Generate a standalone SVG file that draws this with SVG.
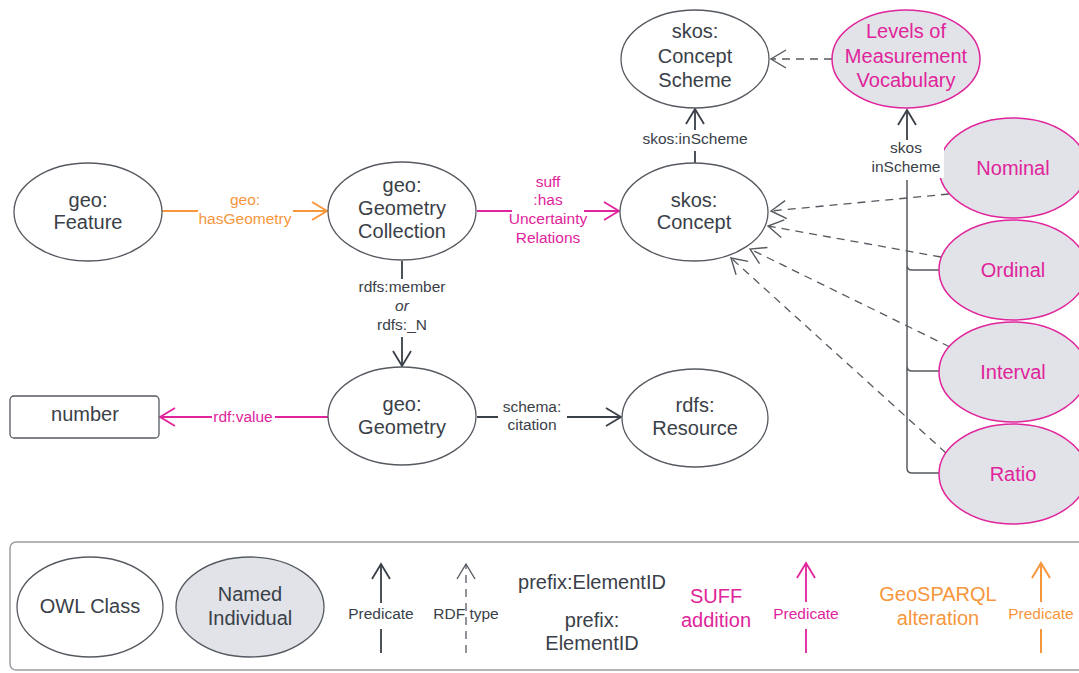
<svg xmlns="http://www.w3.org/2000/svg" width="1079" height="673" viewBox="0 0 1079 673">
<defs>
<style>
text{font-family:"Liberation Sans",Arial,sans-serif;fill:#3a4048;text-anchor:middle}
.n{font-size:20px}
.e{font-size:15.5px}
.m{fill:#e0249b}
.o{fill:#f7963c}
.cls{fill:#fff;stroke:#555a60;stroke-width:1.3}
.ind{fill:#e1e3e8;stroke:#e0249b;stroke-width:1.5}
.ln{fill:none;stroke:#3a4048;stroke-width:1.8}
.lm{fill:none;stroke:#e0249b;stroke-width:1.8}
.lo{fill:none;stroke:#f7963c;stroke-width:2}
.ld{fill:none;stroke:#555a60;stroke-width:1.3;stroke-dasharray:8 6}
</style>
<marker id="ag" viewBox="0 0 20 20" refX="18" refY="10" markerWidth="20" markerHeight="20" markerUnits="userSpaceOnUse" orient="auto"><path d="M3,1 L18,10 L3,19" fill="none" stroke="#3a4048" stroke-width="1.8"/></marker>
<marker id="am" viewBox="0 0 20 20" refX="18" refY="10" markerWidth="20" markerHeight="20" markerUnits="userSpaceOnUse" orient="auto"><path d="M3,1 L18,10 L3,19" fill="none" stroke="#e0249b" stroke-width="1.8"/></marker>
<marker id="ao" viewBox="0 0 20 20" refX="18" refY="10" markerWidth="20" markerHeight="20" markerUnits="userSpaceOnUse" orient="auto"><path d="M3,1 L18,10 L3,19" fill="none" stroke="#f7963c" stroke-width="2"/></marker>
<marker id="ad" viewBox="0 0 20 20" refX="18" refY="10" markerWidth="20" markerHeight="20" markerUnits="userSpaceOnUse" orient="auto"><path d="M3,1 L18,10 L3,19" fill="none" stroke="#555a60" stroke-width="1.4"/></marker>
</defs>
<rect width="1079" height="673" fill="#fff"/>

<g id="connectors">
<path class="lo" d="M162,211 H198 M293,211 H327" marker-end="url(#ao)"/>
<text class="e o" x="245" y="205">geo:</text>
<text class="e o" x="245" y="224">hasGeometry</text>

<path class="lm" d="M477,211 H512 M584,211 H619" marker-end="url(#am)"/>
<text class="e m" x="548" y="187">suff</text>
<text class="e m" x="548" y="205">:has</text>
<text class="e m" x="548" y="224">Uncertainty</text>
<text class="e m" x="548" y="243">Relations</text>

<path class="ln" d="M402,261 V279 M402,337 V366" marker-end="url(#ag)"/>
<text class="e" x="402" y="292">rdfs:member</text>
<text class="e" x="402" y="311" font-style="italic">or</text>
<text class="e" x="402" y="330">rdfs:_N</text>

<path class="lm" d="M328,417 H275 M212,417 H160" marker-end="url(#am)"/>
<text class="e m" x="243" y="422">rdf:value</text>

<path class="ln" d="M477,417 H498 M567,417 H621" marker-end="url(#ag)"/>
<text class="e" x="532" y="412">schema:</text>
<text class="e" x="532" y="430">citation</text>

<path class="ln" d="M695,163 V151 M695,130 V109" marker-end="url(#ag)"/>
<text class="e" x="695" y="144">skos:inScheme</text>

<path class="ld" d="M832,59 H771" marker-end="url(#ad)"/>

<path class="ln" d="M907,140 V110" marker-end="url(#ag)"/>
<path fill="none" stroke="#555a60" stroke-width="1.5" d="M907,180 V468 Q907,473 912,473 H939 M907,265 Q907,270 912,270 H939 M907,366 Q907,371 912,371 H939"/>

<path class="ld" d="M949,194 L771,211" marker-end="url(#ad)"/>
<path class="ld" d="M941,257 L768,226" marker-end="url(#ad)"/>
<path class="ld" d="M950,347 L750,249" marker-end="url(#ad)"/>
<path class="ld" d="M946,453 L731,258" marker-end="url(#ad)"/>
</g>

<g id="feature"><ellipse class="cls" cx="88" cy="212" rx="74" ry="49"/><text class="n" x="88" y="207">geo:</text><text class="n" x="88" y="229">Feature</text></g>
<g id="geometry-collection"><ellipse class="cls" cx="402" cy="211" rx="74" ry="49"/><text class="n" x="402" y="192">geo:</text><text class="n" x="402" y="215">Geometry</text><text class="n" x="402" y="238">Collection</text></g>
<g id="concept"><ellipse class="cls" cx="694" cy="212" rx="74" ry="49"/><text class="n" x="694" y="207">skos:</text><text class="n" x="694" y="229">Concept</text></g>
<g id="concept-scheme"><ellipse class="cls" cx="695" cy="59" rx="74" ry="49"/><text class="n" x="695" y="38">skos:</text><text class="n" x="695" y="63">Concept</text><text class="n" x="695" y="87">Scheme</text></g>
<g id="levels"><ellipse class="ind" cx="906" cy="59" rx="74" ry="49"/><text class="n m" x="906" y="38">Levels of</text><text class="n m" x="906" y="63">Measurement</text><text class="n m" x="906" y="87">Vocabulary</text></g>
<g id="geometry"><ellipse class="cls" cx="402" cy="416" rx="74" ry="49"/><text class="n" x="402" y="411">geo:</text><text class="n" x="402" y="434">Geometry</text></g>
<g id="resource"><ellipse class="cls" cx="695" cy="418" rx="73" ry="49"/><text class="n" x="695" y="412">rdfs:</text><text class="n" x="695" y="435">Resource</text></g>
<g id="number"><rect class="cls" x="10" y="396" width="149" height="42" rx="4"/><text class="n" x="85" y="421">number</text></g>
<g id="nominal"><ellipse class="ind" cx="1013" cy="168" rx="74" ry="50"/><text class="n m" x="1013" y="175">Nominal</text></g>
<g id="ordinal"><ellipse class="ind" cx="1013" cy="270" rx="74" ry="50"/><text class="n m" x="1013" y="277">Ordinal</text></g>
<g id="interval"><ellipse class="ind" cx="1013" cy="372" rx="74" ry="50"/><text class="n m" x="1013" y="379">Interval</text></g>
<g id="ratio"><ellipse class="ind" cx="1013" cy="474" rx="74" ry="50"/><text class="n m" x="1013" y="481">Ratio</text></g>

<g id="inscheme-label">
<rect x="866" y="140" width="78" height="38" fill="#fff"/>
<text class="e" x="906" y="153">skos</text>
<text class="e" x="906" y="172">inScheme</text>
</g>

<g id="legend">
<rect x="10" y="542" width="1090" height="128" rx="6" fill="#fff" stroke="#9a9ea3" stroke-width="1.5"/>
<ellipse class="cls" cx="90" cy="607" rx="73" ry="50"/><text class="n" x="90" y="613">OWL Class</text>
<ellipse cx="250" cy="607" rx="74" ry="50" fill="#e1e3e8" stroke="#555a60" stroke-width="1.3"/><text class="n" x="250" y="601">Named</text><text class="n" x="250" y="625">Individual</text>
<path class="ln" d="M381,653 V629 M381,603 V564" marker-end="url(#ag)"/>
<text class="e" x="381" y="619">Predicate</text>
<path class="ld" d="M466,653 V564" stroke-dasharray="6 5" marker-end="url(#ad)"/>
<text class="e" x="466" y="619">RDF type</text>
<text class="n" x="592" y="589">prefix:ElementID</text>
<text class="n" x="592" y="627">prefix:</text>
<text class="n" x="592" y="650">ElementID</text>
<text class="n m" x="716" y="603">SUFF</text>
<text class="n m" x="716" y="627">addition</text>
<path class="lm" d="M806,653 V629 M806,602 V563" marker-end="url(#am)"/>
<text class="e m" x="806" y="619">Predicate</text>
<text class="n o" x="938" y="601">GeoSPARQL</text>
<text class="n o" x="938" y="625">alteration</text>
<path class="lo" d="M1041,653 V629 M1041,602 V563" marker-end="url(#ao)"/>
<text class="e o" x="1041" y="619">Predicate</text>
</g>
</svg>
